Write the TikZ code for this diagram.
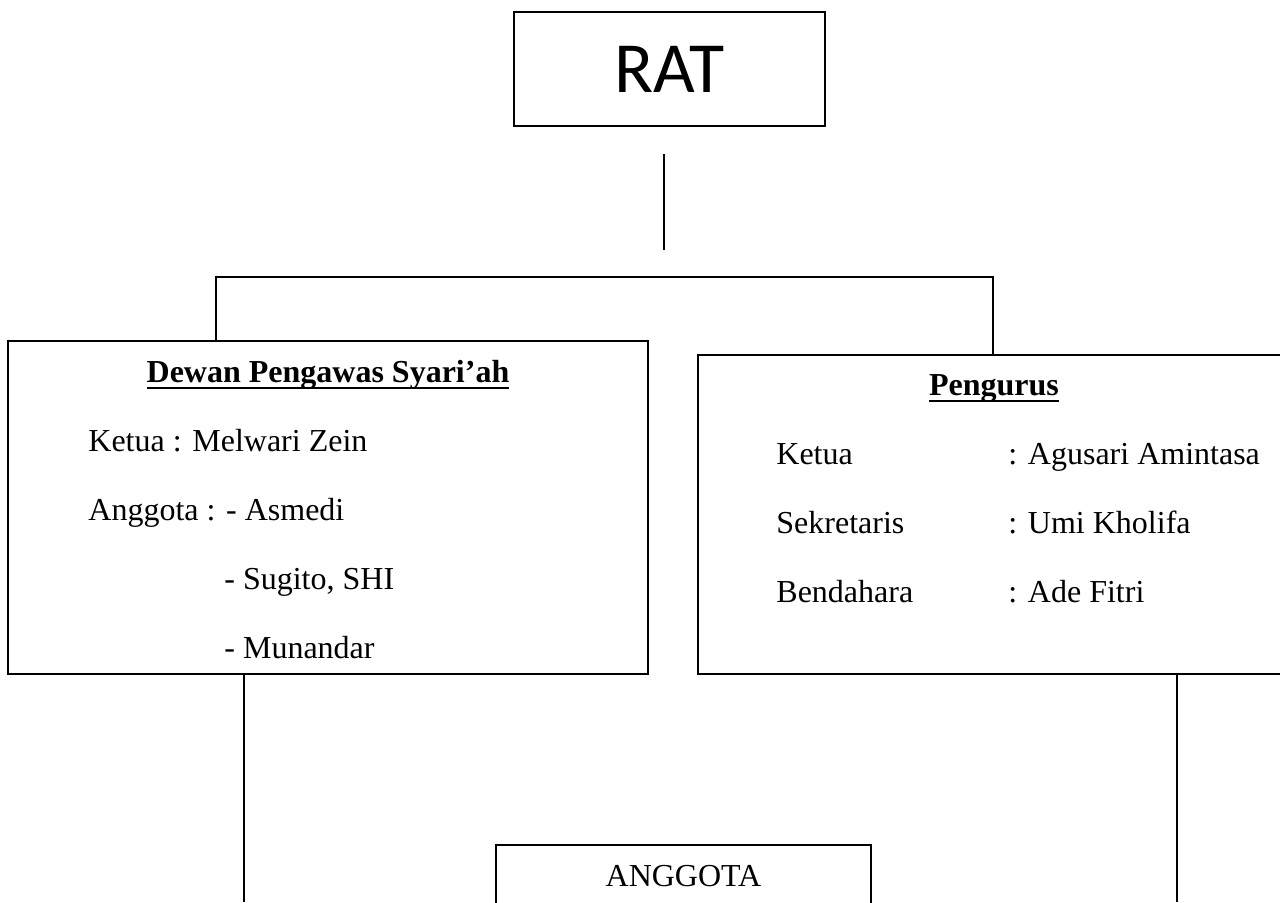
\documentclass[tikz,border=0pt]{standalone}
\usepackage{fontspec}
\setmainfont{Liberation Serif}
\newfontfamily\ratfont{Carlito}
\usetikzlibrary{positioning}

% bold title with a thin underline close to the baseline
\newcommand{\judul}[1]{\setbox0\hbox{\bfseries #1}\rlap{\rule[-3.6pt]{\wd0}{1pt}}\box0}

\tikzset{
  box/.style      = {shape=rectangle, draw, line width=1pt,
                     inner sep=0pt, outer sep=0pt},
  txt/.style      = {anchor=base west, inner sep=0pt, font=\fontsize{16}{19}\selectfont},
  ttl/.style      = {anchor=base, inner sep=0pt, font=\fontsize{16}{19}\selectfont},
  garis/.style    = {draw, line width=0.8pt}
}

\begin{document}
\begin{tikzpicture}[x=0.5pt, y=-0.5pt]
\useasboundingbox (0,0) rectangle (1280,902);
\clip (0,0) rectangle (1280,902);

% boxes
\node [box, minimum width=155.5pt, minimum height=57pt,
       font=\ratfont\fontsize{36}{40}\selectfont] (rat) at (669.5,69) {RAT};
\node [box, minimum width=320pt, minimum height=166.5pt] (dps) at (328,507.5) {};
\node [box, minimum width=296pt, minimum height=159.5pt] (pengurus) at (994,514.5) {};
\node [box, minimum width=187.5pt, minimum height=60pt] (anggota) at (683.5,905) {};

% Dewan Pengawas Syari'ah
\node [ttl] (dps-judul) at (328,382) {\judul{Dewan Pengawas Syari’ah}};
\node [txt] (dps-ketua) at (88,451) {Ketua : Melwari Zein};
\node [txt] (dps-angg1) at (88,520) {Anggota : - Asmedi};
\node [txt] (dps-angg2) at (224,589) {- Sugito, SHI};
\node [txt] (dps-angg3) at (224,658) {- Munandar};

% Pengurus
\node [ttl] (peng-judul) at (994,395) {\judul{Pengurus}};
\node [txt] (peng-k)  at (776,464) {Ketua};
\node [txt] (peng-s)  at (776,533) {Sekretaris};
\node [txt] (peng-b)  at (776,602) {Bendahara};
\node [txt] (peng-kn) at (1008,464) {: Agusari Amintasa};
\node [txt] (peng-sn) at (1008,533) {: Umi Kholifa};
\node [txt] (peng-bn) at (1008,602) {: Ade Fitri};

% Anggota
\node [ttl] (anggota-txt) at (683.5,886) {ANGGOTA};

% connectors
\coordinate (rat-a) at (664,154);
\coordinate (rat-b) at (664,250);
\coordinate (bar-l) at (216,277);
\coordinate (bar-r) at (993,277);
\coordinate (dps-out) at (244,902);
\coordinate (peng-out) at (1177,902);

\draw [garis] (rat-a) -- (rat-b);
\draw [garis] (dps.north -| bar-l) -- (bar-l) -- (bar-r) -- (pengurus.north -| bar-r);
\draw [garis] (dps.south -| dps-out) -- (dps-out);
\draw [garis] (pengurus.south -| peng-out) -- (peng-out);
\end{tikzpicture}
\end{document}
